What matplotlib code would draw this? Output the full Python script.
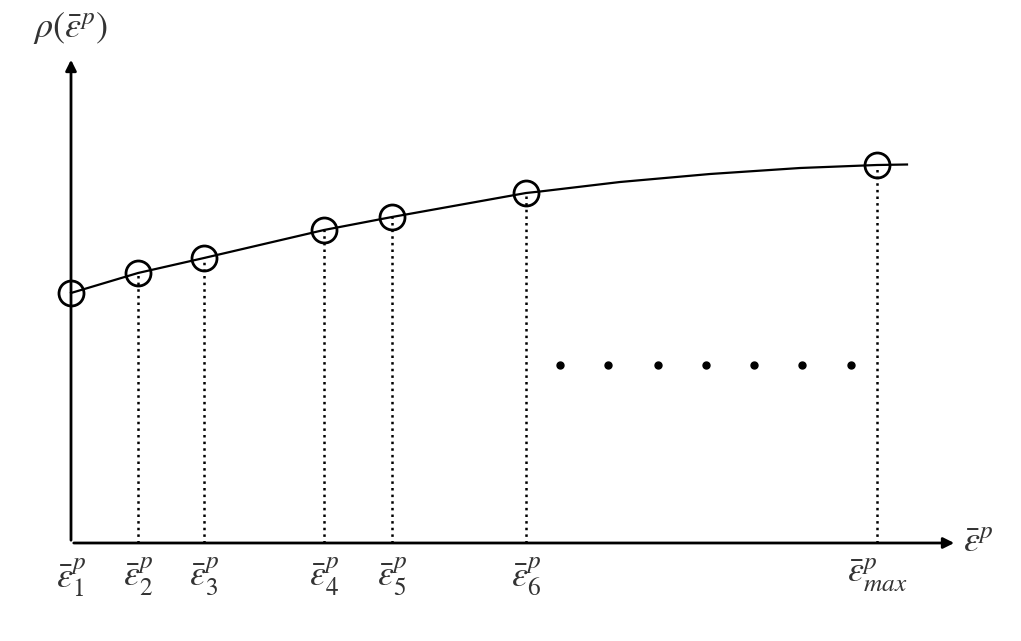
import matplotlib
matplotlib.use('Agg')
import matplotlib.pyplot as plt

plt.rcParams['mathtext.fontset'] = 'stix'

# sample points on the hardening curve (schematic units)
strain = [0, 67, 133, 253, 321, 455, 806]
rho = [250, 270, 285, 313, 326, 350, 378]
subs = ['1', '2', '3', '4', '5', '6', 'max']

# readings along the curve, including the stretch past the last sample
curve_x = [0, 67, 133, 253, 321, 455, 469, 549, 639, 729, 806, 836]
curve_y = [250, 270, 285, 313, 326, 350, 351.5, 361, 369, 375, 378, 378.5]

# the row of "..." dots
dots_x = [489, 537, 587, 635, 683, 731, 780]
dots_y = [178] * 7

fig = plt.figure(figsize=(10.21, 6.41), dpi=100)
ax = fig.add_axes([0, 0, 1, 1])
ax.set_xlim(-71, 950)
ax.set_ylim(-98, 543)
ax.axis('off')

# axes with arrow heads
ax.annotate('', xy=(886, 0), xytext=(0, 0),
            arrowprops=dict(arrowstyle='-|>', lw=2, color='black', mutation_scale=16))
ax.annotate('', xy=(0, 486), xytext=(0, 0),
            arrowprops=dict(arrowstyle='-|>', lw=2, color='black', mutation_scale=16))

ax.plot(curve_x, curve_y, color='black', lw=1.6, zorder=3)

# dotted drop lines
for x, y in zip(strain[1:], rho[1:]):
    ax.plot([x, x], [0, y], color='black', ls=':', lw=1.8, zorder=2)

ax.plot(strain, rho, 'o', ms=18, mfc='none', mec='black', mew=2, zorder=4)
ax.plot(dots_x, dots_y, 'o', ms=5, color='black', ls='none')

for x, s in zip(strain, subs):
    ax.text(x, -13, r'$\bar{\varepsilon}_{%s}^{p}$' % s, fontsize=26,
            ha='center', va='top', color='#333333')

ax.text(892, 2, r'$\bar{\varepsilon}^{p}$', fontsize=26, ha='left', va='center', color='#333333')
ax.text(0, 497, r'$\rho(\bar{\varepsilon}^{p})$', fontsize=26, ha='center', va='bottom', color='#333333')

plt.savefig('out.png', dpi=100)
plt.close()
